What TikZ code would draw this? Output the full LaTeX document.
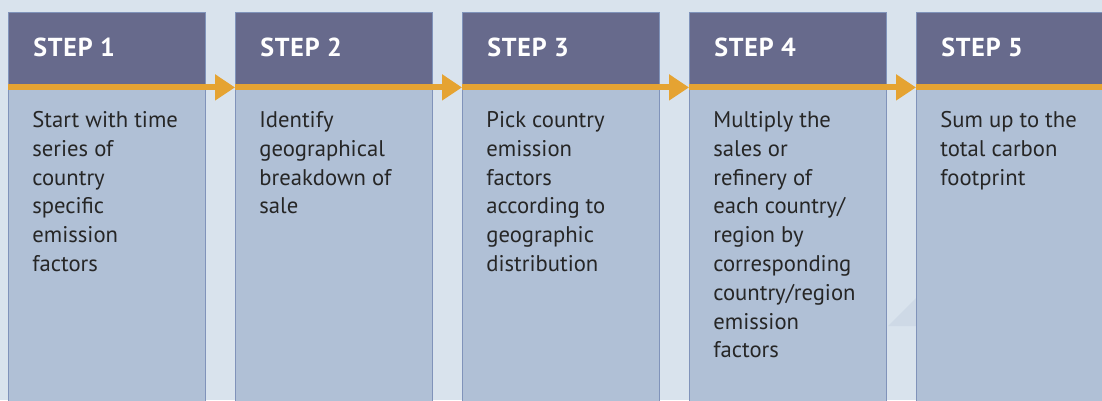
\documentclass[tikz,border=0pt]{standalone}
\usepackage{fontspec}
\setmainfont{PT Sans}
\newfontfamily\headfont[LetterSpace=3]{PT Sans}
\usetikzlibrary{arrows.meta}
\definecolor{pagebg}{HTML}{D9E3ED}
\definecolor{bgshade}{HTML}{CED9E6}
\definecolor{headfill}{HTML}{676A8C}
\definecolor{bodyfill}{HTML}{B0C0D6}
\definecolor{edge}{HTML}{8093BA}
\definecolor{flowline}{HTML}{E5A332}
\definecolor{ink}{HTML}{262626}
\begin{document}
\begin{tikzpicture}
		[x=0.02cm,y=-0.02cm,
		head/.style={rectangle,fill=headfill,draw=edge,line width=0.6pt,anchor=north west,
			minimum width=3.94cm,minimum height=1.48cm,inner sep=0pt},
		body/.style={rectangle,fill=bodyfill,draw=edge,line width=0.6pt,anchor=north west,
			minimum width=3.94cm,minimum height=6.4cm,inner sep=0pt},
		label/.style={anchor=west,inner sep=0pt,text=white,font=\headfont\bfseries\fontsize{14.8}{18}\selectfont},
		say/.style={anchor=north west,inner sep=0pt,align=left,text=ink,font=\fontsize{12.9}{16.4}\selectfont},
		flow/.style={draw=flowline,line width=3.4pt},
		tip/.style={-{Triangle[length=0.4cm,width=0.5cm]}}]
		\useasboundingbox[fill=pagebg] (0,0) rectangle (1102,400);
		% faint shape behind the columns
		\fill[bgshade] (888,326) -- (916,298) -- (916,326) -- cycle;
		% bodies
		\node[body] (body1) at (8,86) {};
		\node[body] (body2) at (235,86) {};
		\node[body] (body3) at (462,86) {};
		\node[body] (body4) at (689,86) {};
		\node[body] (body5) at (916,86) {};
		% headers
		\node[head] (head1) at (8,12) {};
		\node[head] (head2) at (235,12) {};
		\node[head] (head3) at (462,12) {};
		\node[head] (head4) at (689,12) {};
		\node[head] (head5) at (916,12) {};
		\node[label] (name1) at (33,47) {STEP 1};
		\node[label] (name2) at (260,47) {STEP 2};
		\node[label] (name3) at (487,47) {STEP 3};
		\node[label] (name4) at (714,47) {STEP 4};
		\node[label] (name5) at (941,47) {STEP 5};
		% orange line
		\draw[flow,tip] ([yshift=-0.2pt]head1.south west) -- ([yshift=-0.2pt]head2.south west);
		\draw[flow,tip] ([yshift=-0.2pt]head2.south west) -- ([yshift=-0.2pt]head3.south west);
		\draw[flow,tip] ([yshift=-0.2pt]head3.south west) -- ([yshift=-0.2pt]head4.south west);
		\draw[flow,tip] ([yshift=-0.2pt]head4.south west) -- ([yshift=-0.2pt]head5.south west);
		\draw[flow] ([yshift=-0.2pt]head5.south west) -- ([yshift=-0.2pt]head5.south east);
		% texts
		\node[say] (text1) at (32,111) {Start with time\\series of\\country\\specific\\emission\\factors};
		\node[say] (text2) at (259,111) {Identify\\geographical\\breakdown of\\sale};
		\node[say] (text3) at (486,111) {Pick country\\emission\\factors\\according to\\geographic\\distribution};
		\node[say] (text4) at (713,111) {Multiply the\\sales or\\refinery of\\each country/\\region by\\corresponding\\country/region\\emission\\factors};
		\node[say] (text5) at (940,111) {Sum up to the\\total carbon\\footprint};
\end{tikzpicture}
\end{document}
